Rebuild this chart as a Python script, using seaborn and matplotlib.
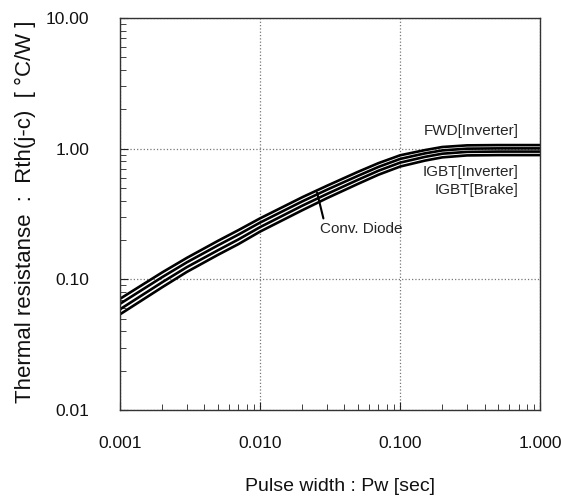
import numpy as np
import pandas as pd
import seaborn as sns
import matplotlib.pyplot as plt
from matplotlib.ticker import FixedLocator, FixedFormatter, LogLocator, NullFormatter

# Pulse width [sec] and thermal resistance readings [degC/W]
pulse_width = [0.001, 0.002, 0.003, 0.005, 0.007, 0.01, 0.02, 0.03, 0.05, 0.07,
               0.1, 0.15, 0.2, 0.3, 0.5, 0.7, 1.0]
fwd_inverter = [0.071, 0.113, 0.146, 0.197, 0.238, 0.293, 0.425, 0.520, 0.665, 0.775,
                0.890, 0.975, 1.030, 1.060, 1.065, 1.065, 1.065]
igbt_inverter = [0.065, 0.104, 0.135, 0.182, 0.220, 0.272, 0.395, 0.485, 0.620, 0.725,
                 0.835, 0.920, 0.970, 1.000, 1.005, 1.005, 1.005]
igbt_brake = [0.059, 0.095, 0.124, 0.167, 0.202, 0.251, 0.366, 0.450, 0.578, 0.678,
              0.782, 0.865, 0.915, 0.945, 0.950, 0.950, 0.950]
conv_diode = [0.054, 0.087, 0.114, 0.154, 0.186, 0.232, 0.338, 0.418, 0.538, 0.632,
              0.730, 0.810, 0.858, 0.888, 0.893, 0.893, 0.893]

x_ticks = [0.001, 0.01, 0.1, 1.0]
x_tick_labels = ["0.001", "0.010", "0.100", "1.000"]
y_ticks = [0.01, 0.1, 1.0, 10.0]
y_tick_labels = ["0.01", "0.10", "1.00", "10.00"]

df = pd.DataFrame({
    "pw": pulse_width * 4,
    "rth": fwd_inverter + igbt_inverter + igbt_brake + conv_diode,
    "device": (["FWD[Inverter]"] * len(pulse_width) + ["IGBT[Inverter]"] * len(pulse_width)
               + ["IGBT[Brake]"] * len(pulse_width) + ["Conv. Diode"] * len(pulse_width)),
})

sns.set_style("white")
plt.rcParams["font.family"] = ["Liberation Sans", "DejaVu Sans"]

fig = plt.figure(figsize=(5.61, 5.0), dpi=100)
ax = fig.add_axes([0.214, 0.18, 0.749, 0.784])

sns.lineplot(data=df, x="pw", y="rth", hue="device", palette=["black"] * 4,
             linewidth=1.9, legend=False, ax=ax)

ax.set_xscale("log")
ax.set_yscale("log")
ax.set_xlim(0.001, 1.0)
ax.set_ylim(0.01, 10.0)

ax.xaxis.set_major_locator(FixedLocator(x_ticks))
ax.xaxis.set_major_formatter(FixedFormatter(x_tick_labels))
ax.yaxis.set_major_locator(FixedLocator(y_ticks))
ax.yaxis.set_major_formatter(FixedFormatter(y_tick_labels))
ax.xaxis.set_minor_locator(LogLocator(base=10, subs=np.arange(2, 10)))
ax.yaxis.set_minor_locator(LogLocator(base=10, subs=np.arange(2, 10)))
ax.xaxis.set_minor_formatter(NullFormatter())
ax.yaxis.set_minor_formatter(NullFormatter())

ax.tick_params(which="both", direction="in", top=False, right=False,
               bottom=True, left=True, color="#222222")
ax.tick_params(which="major", length=6, labelsize=12.5, labelcolor="#111111")
ax.tick_params(axis="x", which="major", pad=19)
ax.tick_params(axis="y", which="major", pad=22)
ax.tick_params(which="minor", length=4)

ax.grid(True, which="major", linestyle=":", color="#777777", linewidth=0.9)

for s in ax.spines.values():
    s.set_color("#333333")
    s.set_linewidth(1.0)

ax.set_xlabel("Pulse width : Pw [sec]", fontsize=14, color="#111111")
ax.set_ylabel("Thermal resistanse  :  Rth(j-c)  [ \u00b0C/W ]", fontsize=16, color="#111111")
ax.xaxis.set_label_coords(0.524, -0.196)
ax.yaxis.set_label_coords(-0.226, 0.505)
ax.xaxis.label.set_va("center")
ax.yaxis.label.set_va("center")

ax.text(0.70, 1.37, "FWD[Inverter]", ha="right", va="center", fontsize=11)
ax.text(0.70, 0.667, "IGBT[Inverter]", ha="right", va="center", fontsize=11)
ax.text(0.70, 0.486, "IGBT[Brake]", ha="right", va="center", fontsize=11)
ax.annotate("Conv. Diode", xy=(0.0255, 0.462), xytext=(0.0268, 0.244),
            ha="left", va="center", fontsize=11,
            arrowprops=dict(arrowstyle="-", color="black", lw=1.5,
                            shrinkA=0, shrinkB=0, relpos=(0.05, 1.0)))

fig.savefig("out.png", dpi=100)
